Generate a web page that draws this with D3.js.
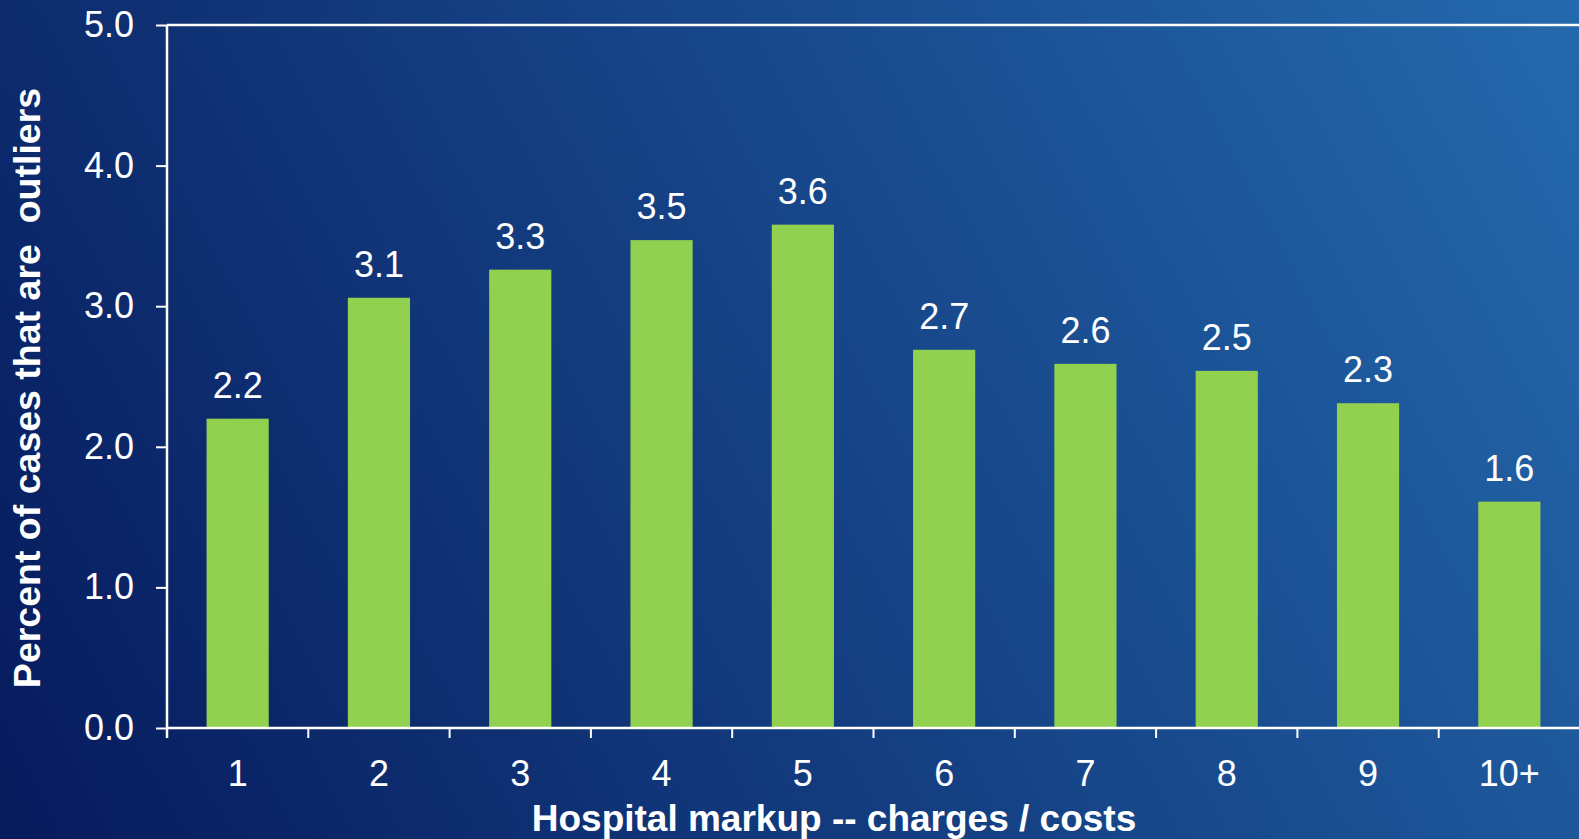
<!DOCTYPE html>
<meta charset="utf-8">
<style>
  body { margin: 0; overflow: hidden; }
  text { font-family: "Liberation Sans", Arial, sans-serif; fill: #fff; }
</style>
<svg width="1579" height="839"></svg>
<script src="https://d3js.org/d3.v7.min.js"></script>
<script>

var categories = ['1', '2', '3', '4', '5', '6', '7', '8', '9', '10+'];
var values = [2.2, 3.06, 3.26, 3.47, 3.58, 2.69, 2.59, 2.54, 2.31, 1.61];
var yTicks = [0, 1, 2, 3, 4, 5];

var svg = d3.select("svg"),
    width = +svg.attr("width"),
    height = +svg.attr("height");

var margin = {top: 25, left: 167, bottom: 111};

// background: dark navy bottom-left to lighter blue top-right
var grad = svg.append("defs").append("linearGradient")
    .attr("id", "bg")
    .attr("gradientUnits", "userSpaceOnUse")
    .attr("x1", 0).attr("y1", height)
    .attr("x2", width).attr("y2", 0);
grad.append("stop").attr("offset", 0).attr("stop-color", "#061a5c");
grad.append("stop").attr("offset", 1).attr("stop-color", "#2469ad");

svg.append("rect")
    .attr("width", width)
    .attr("height", height)
    .attr("fill", "url(#bg)");

var x = d3.scaleBand()
    .domain(categories)
    .range([margin.left, width + 1])
    .paddingInner(0.56)
    .paddingOuter(0.28);

var y = d3.scaleLinear()
    .domain([0, 5])
    .range([height - margin.bottom, margin.top]);

// bars
svg.append("g")
  .selectAll("rect")
  .data(values)
  .enter().append("rect")
  .attr("x", function(d, i) { return x(categories[i]); })
  .attr("y", function(d) { return y(d); })
  .attr("width", x.bandwidth())
  .attr("height", function(d) { return y(0) - y(d); })
  .attr("fill", "#92d050");

// value labels
svg.append("g")
  .selectAll("text")
  .data(values)
  .enter().append("text")
  .attr("x", function(d, i) { return x(categories[i]) + x.bandwidth() / 2; })
  .attr("y", function(d) { return y(d) - 21; })
  .attr("text-anchor", "middle")
  .style("font-size", "36px")
  .text(function(d) { return d3.format(".1f")(d); });

// top frame line
svg.append("line")
    .attr("x1", margin.left).attr("x2", width)
    .attr("y1", y(5)).attr("y2", y(5))
    .attr("stroke", "#fff")
    .attr("stroke-width", 2.5);

// y axis
var yAxis = svg.append("g")
    .attr("transform", "translate(" + margin.left + ",0)")
    .call(d3.axisLeft(y)
      .tickValues(yTicks)
      .tickFormat(d3.format(".1f"))
      .tickSizeInner(11)
      .tickSizeOuter(0)
      .tickPadding(22));
yAxis.select(".domain").attr("stroke", "#fff").attr("stroke-width", 2.5)
    .attr("d", "M0," + y(5) + "V" + (y(0) + 10));
yAxis.selectAll(".tick line").attr("stroke", "#fff").attr("stroke-width", 2);
yAxis.selectAll(".tick text")
    .style("font-size", "36px")
    .style("fill", "#fff");

// x axis
var xAxis = svg.append("g")
    .attr("transform", "translate(0," + y(0) + ")")
    .call(d3.axisBottom(x).tickSize(0).tickPadding(32));
xAxis.select(".domain").attr("stroke", "#fff").attr("stroke-width", 2.5)
    .attr("d", "M" + margin.left + ",0H" + width);
xAxis.selectAll(".tick text")
    .style("font-size", "36px")
    .style("fill", "#fff");

// x ticks sit on the band boundaries
var gap = x.step() - x.bandwidth();
xAxis.append("g")
  .selectAll("line")
  .data(categories)
  .enter().append("line")
  .attr("x1", function(d) { return x(d) - gap / 2; })
  .attr("x2", function(d) { return x(d) - gap / 2; })
  .attr("y1", 0).attr("y2", 10)
  .attr("stroke", "#fff")
  .attr("stroke-width", 2);

// axis titles
svg.append("text")
    .attr("transform", "translate(40,388) rotate(-90)")
    .attr("text-anchor", "middle")
    .style("font-size", "37.5px")
    .style("font-weight", "bold")
    .style("white-space", "pre")
    .text("Percent of cases that are  outliers");

svg.append("text")
    .attr("x", 834)
    .attr("y", 831)
    .attr("text-anchor", "middle")
    .style("font-size", "37px")
    .style("font-weight", "bold")
    .text("Hospital markup -- charges / costs");

</script>
